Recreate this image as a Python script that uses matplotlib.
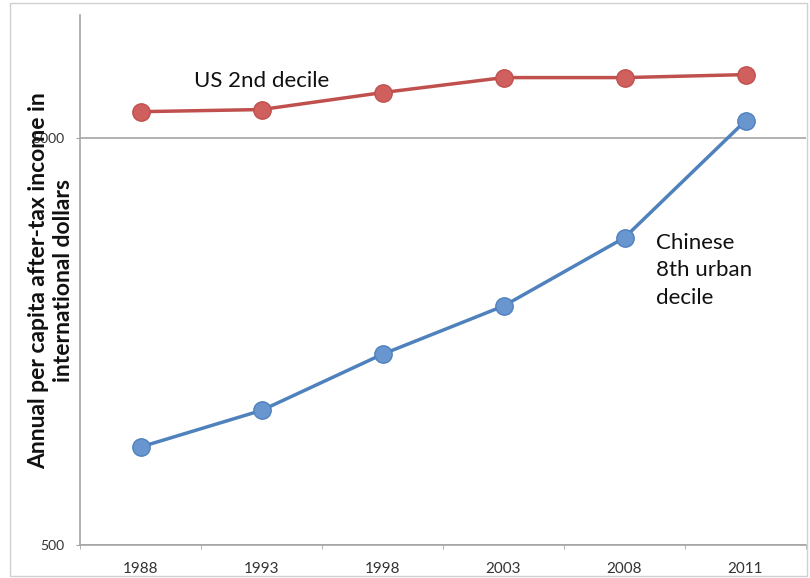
import numpy as np
import matplotlib.pyplot as plt
from matplotlib.ticker import FixedLocator, NullFormatter, NullLocator

years = ['1988', '1993', '1998', '2003', '2008', '2011']
us_2nd_decile = [5790, 5860, 6450, 7020, 7020, 7140]
china_8th_urban = [870, 1070, 1470, 1930, 2840, 5500]
y_ticks = [500, 5000]

red = '#C0504D'
blue = '#4F81BD'
axis_grey = '#A6A6A6'

plt.rcParams['font.family'] = ['Lato', 'DejaVu Sans']

fig = plt.figure(figsize=(8.1, 5.78), dpi=100)
ax = fig.add_axes([80 / 810, 33 / 578, 726 / 810, 530 / 578])

x = np.arange(len(years))
ax.plot(x, us_2nd_decile, color=red, lw=2.5, marker='o', ms=12.5,
        markeredgecolor=red, markerfacecolor='#D0605E', zorder=3, clip_on=False)
ax.plot(x, china_8th_urban, color=blue, lw=2.5, marker='o', ms=12.5,
        markeredgecolor=blue, markerfacecolor='#6A96CF', zorder=3, clip_on=False)

ax.set_yscale('log')
ax.set_ylim(500, 10000)
ax.set_xlim(-0.5, len(years) - 0.5)

ax.yaxis.set_major_locator(FixedLocator(y_ticks))
ax.yaxis.set_minor_locator(NullLocator())
ax.set_yticklabels([str(v) for v in y_ticks])
ax.yaxis.set_minor_formatter(NullFormatter())
ax.grid(axis='y', color=axis_grey, lw=1.2)
ax.set_axisbelow(True)

ax.set_xticks(x)
ax.set_xticklabels(years)
ax.set_xticks(np.arange(len(years) + 1) - 0.5, minor=True)
ax.tick_params(axis='x', which='major', length=0, pad=12, labelsize=11, labelcolor='#333333')
ax.tick_params(axis='x', which='minor', length=3, color=axis_grey, direction='out')
ax.tick_params(axis='y', length=3, color=axis_grey, labelsize=10, labelcolor='#333333', pad=8)

for side in ('top', 'right'):
    ax.spines[side].set_visible(False)
for side in ('left', 'bottom'):
    ax.spines[side].set_color(axis_grey)
    ax.spines[side].set_linewidth(1.2)

# axis title sits over the upper tick label, as in the source chart
fig.text(51 / 810, 1 - 281 / 578,
         'Annual per capita after-tax income in\ninternational dollars',
         rotation=90, ha='center', va='center', fontsize=16.5,
         fontweight='bold', color='#111111', linespacing=1.25, zorder=5)

ax.text(1.0, 6900, 'US 2nd decile', fontsize=16, ha='center', va='center', color='#111111')
ax.text(4.26, 2360, 'Chinese\n8th urban\ndecile', fontsize=16, ha='left', va='center',
        color='#111111', linespacing=1.45)

fig.patches.append(plt.Rectangle((10 / 810, 2 / 578), 797 / 810, 573 / 578,
                                 transform=fig.transFigure, fill=False,
                                 edgecolor='#D0D0D0', lw=1))

plt.savefig('out.png', dpi=100)
